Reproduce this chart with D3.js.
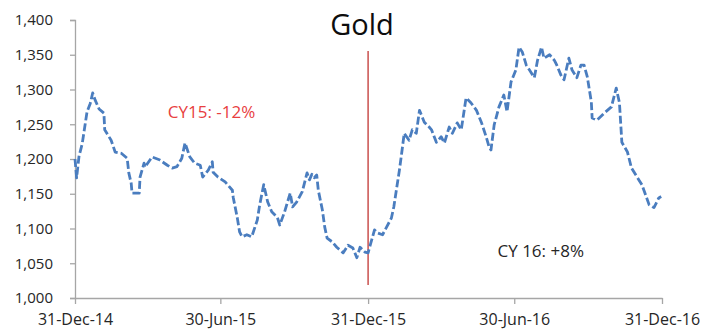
<!DOCTYPE html>
<html>
<head>
<meta charset="utf-8">
<script src="https://cdn.jsdelivr.net/npm/d3@7"></script>
<style>
  html, body { margin: 0; padding: 0; background: #fff; }
  svg { display: block; }
</style>
</head>
<body>
<svg id="chart" width="704" height="333"></svg>
<script>
// Gold price, daily close (USD/oz), end-2014 to end-2016
const dates = [
  "2014-12-31","2015-01-02","2015-01-05","2015-01-09","2015-01-15","2015-01-19","2015-01-22","2015-01-25",
  "2015-01-30","2015-02-05","2015-02-06","2015-02-14","2015-02-19","2015-02-27","2015-03-06","2015-03-08",
  "2015-03-11","2015-03-12","2015-03-21","2015-03-22","2015-03-27","2015-03-28","2015-04-06","2015-04-15",
  "2015-04-25","2015-05-01","2015-05-07","2015-05-13","2015-05-17","2015-05-23","2015-05-29","2015-06-05",
  "2015-06-08","2015-06-15","2015-06-20","2015-06-21","2015-06-27","2015-07-06","2015-07-15","2015-07-16",
  "2015-07-21","2015-07-24","2015-07-27","2015-08-02","2015-08-08","2015-08-15","2015-08-18","2015-08-23",
  "2015-08-28","2015-09-02","2015-09-09","2015-09-12","2015-09-18","2015-09-25","2015-09-28","2015-10-03",
  "2015-10-10","2015-10-16","2015-10-19","2015-10-22","2015-10-25","2015-10-28","2015-10-30","2015-11-04",
  "2015-11-07","2015-11-10","2015-11-16","2015-11-22","2015-11-30","2015-12-06","2015-12-12","2015-12-17",
  "2015-12-21","2015-12-27","2015-12-31","2016-01-08","2016-01-11","2016-01-18","2016-01-23","2016-01-29",
  "2016-02-01","2016-02-08","2016-02-11","2016-02-14","2016-02-20","2016-02-24","2016-02-29","2016-03-04",
  "2016-03-10","2016-03-16","2016-03-19","2016-03-25","2016-03-31","2016-04-04","2016-04-10","2016-04-14",
  "2016-04-20","2016-04-25","2016-05-01","2016-05-07","2016-05-14","2016-05-20","2016-05-26","2016-05-30",
  "2016-06-01","2016-06-05","2016-06-11","2016-06-17","2016-06-21","2016-06-26","2016-07-02","2016-07-06",
  "2016-07-10","2016-07-15","2016-07-19","2016-07-25","2016-07-29","2016-08-03","2016-08-06","2016-08-13",
  "2016-08-19","2016-08-22","2016-08-27","2016-08-31","2016-09-06","2016-09-10","2016-09-16","2016-09-21",
  "2016-09-25","2016-09-29","2016-10-04","2016-10-05","2016-10-11","2016-10-20","2016-10-29","2016-11-04",
  "2016-11-08","2016-11-11","2016-11-18","2016-11-23","2016-11-30","2016-12-06","2016-12-15","2016-12-21",
  "2016-12-27","2016-12-30"
];
const prices = [
  1200,1173,1204,1222,1268,1280,1295,1285,
  1272,1266,1242,1227,1210,1208,1201,1180,
  1165,1151,1151,1174,1194,1188,1203,1199,
  1191,1187,1189,1201,1223,1203,1194,1191,
  1174,1184,1196,1181,1174,1167,1155,1145,
  1116,1095,1088,1091,1088,1112,1134,1163,
  1138,1124,1116,1105,1124,1151,1131,1138,
  1153,1180,1170,1178,1173,1177,1155,1127,
  1102,1086,1081,1073,1065,1076,1072,1058,
  1073,1066,1065,1098,1094,1091,1102,1115,
  1131,1184,1210,1237,1227,1242,1237,1270,
  1253,1246,1242,1224,1232,1223,1246,1237,
  1252,1242,1288,1281,1270,1253,1232,1216,
  1213,1249,1275,1292,1268,1311,1328,1361,
  1354,1335,1328,1317,1342,1361,1345,1350,
  1342,1335,1321,1314,1345,1328,1317,1335,
  1335,1318,1282,1259,1256,1266,1275,1302,
  1281,1224,1210,1187,1174,1163,1134,1130,
  1144,1146
];

const yTicks = [1000,1050,1100,1150,1200,1250,1300,1350,1400];
const xTicks = ["2014-12-31","2015-06-30","2015-12-31","2016-06-30","2016-12-31"];
const yearEnd = "2015-12-31";
const title = "Gold";
const notes = [
  { text: "CY15: -12%", date: "2015-06-19", value: 1268, color: "#e8403f" },
  { text: "CY 16: +8%", date: "2016-08-02", value: 1069, color: "#262626" }
];

const parse = d3.timeParse("%Y-%m-%d");
const series = dates.map((d, i) => ({ date: parse(d), value: prices[i] }));

const svg = d3.select("#chart");
const x = d3.scaleTime().domain([parse("2014-12-31"), parse("2016-12-31")]).range([75, 662]);
const y = d3.scaleLinear().domain([1000, 1400]).range([298, 20]);

const axisColor = "#a6a6a6";
const font = "'Open Sans', 'Liberation Sans', sans-serif";

// y axis
const gy = svg.append("g").attr("transform", "translate(75,0)")
  .call(d3.axisLeft(y).tickValues(yTicks).tickFormat(d3.format(",")).tickSize(5).tickPadding(17));
gy.select(".domain").attr("stroke", axisColor).attr("stroke-width", 1.3);
gy.selectAll(".tick line").attr("stroke", axisColor).attr("stroke-width", 1.3);
gy.selectAll(".tick text").attr("fill", "#262626").style("font-family", font).style("font-size", "15px");

// x axis
const gx = svg.append("g").attr("transform", "translate(0,298)")
  .call(d3.axisBottom(x).tickValues(xTicks.map(parse)).tickFormat(d3.timeFormat("%d-%b-%y")).tickSize(6).tickSizeOuter(0).tickPadding(10));
gx.select(".domain").attr("stroke", axisColor).attr("stroke-width", 1.3);
gx.selectAll(".tick line").attr("stroke", axisColor).attr("stroke-width", 1.3);
gx.selectAll(".tick text").attr("fill", "#262626").style("font-family", font).style("font-size", "16px");

// year boundary marker
svg.append("line")
  .attr("x1", x(parse(yearEnd))).attr("x2", x(parse(yearEnd)))
  .attr("y1", 51).attr("y2", 285)
  .attr("stroke", "#c9504d").attr("stroke-width", 1.5);

// price line
const line = d3.line().x(d => x(d.date)).y(d => y(d.value));
svg.append("path")
  .datum(series)
  .attr("d", line)
  .attr("fill", "none")
  .attr("stroke", "#4a7dbf")
  .attr("stroke-width", 2.8)
  .attr("stroke-dasharray", "8,3")
  .attr("stroke-linejoin", "round");

// title
svg.append("text")
  .attr("x", 362).attr("y", 35)
  .attr("text-anchor", "middle")
  .style("font-family", font).style("font-size", "29px")
  .attr("fill", "#0d0d0d")
  .text(title);

// yearly change annotations
svg.selectAll("text.note").data(notes).enter().append("text")
  .attr("class", "note")
  .attr("x", d => x(parse(d.date)))
  .attr("y", d => y(d.value))
  .attr("text-anchor", "middle")
  .attr("dominant-baseline", "central")
  .style("font-family", font).style("font-size", "17px")
  .attr("fill", d => d.color)
  .text(d => d.text);
</script>
</body>
</html>
